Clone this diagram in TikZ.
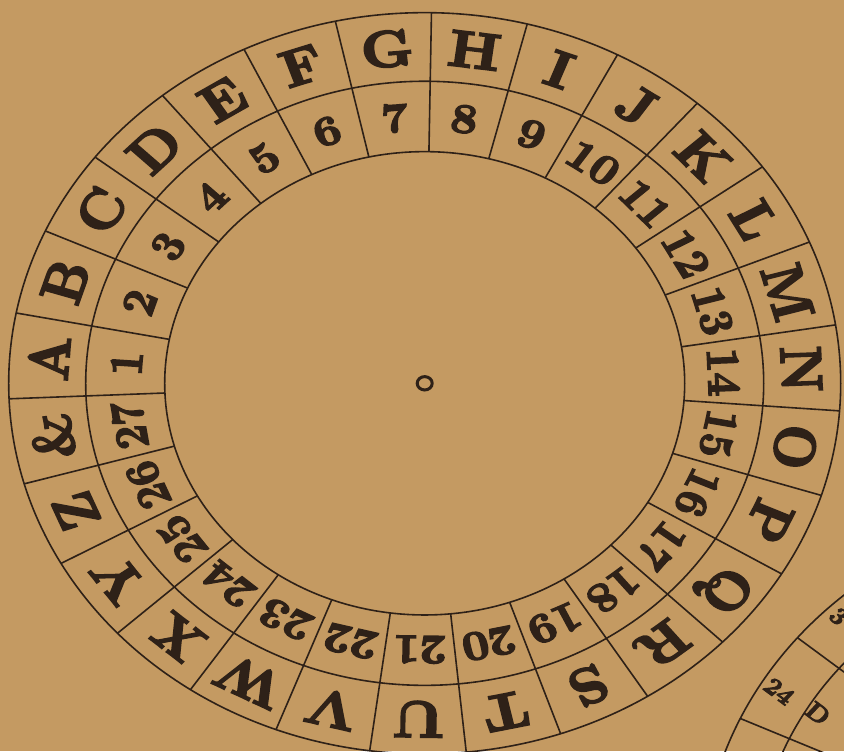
\documentclass[tikz,border=0pt]{standalone}
\usepackage{fontspec}
\usepackage{tikz}
\usetikzlibrary{positioning}
\newfontfamily\wheelfont{lmroman10-bold.otf}[FakeBold=3.5]
\definecolor{PaperTan}{HTML}{C49A62}
\definecolor{InkBrown}{HTML}{2E2118}

\tikzset{
  ring line/.style={draw=InkBrown, line width=1.6pt},
  wheel letter/.style={font=\fontsize{58}{58}\selectfont\wheelfont, text=InkBrown, inner sep=0pt},
  wheel number/.style={font=\fontsize{47}{47}\selectfont\wheelfont, text=InkBrown, inner sep=0pt},
  small number/.style={font=\fontsize{27}{27}\selectfont\wheelfont, text=InkBrown, inner sep=0pt},
}

\begin{document}
\begin{tikzpicture}[x=1pt, y=1pt, yscale=0.891, every node/.append style={transform shape}]
  % Paper
  \fill[PaperTan] (-424.7,430.2) rectangle (419.3,-412.7);
  \useasboundingbox (-424.7,430.2) rectangle (419.3,-412.7);
  \clip (-424.7,430.2) rectangle (419.3,-412.7);

  % Rings of the wheel
  \draw[ring line] (0,0) circle[radius=416];
  \draw[ring line] (0,0) circle[radius=339];
  \draw[ring line] (0,0) circle[radius=260];

  % Spokes
  \foreach \k in {0,...,26}
    \draw[ring line] ({182.4-13.3333*\k}:260) -- ({182.4-13.3333*\k}:416);

  % Letters
  \foreach \ch [count=\i from 0] in {A,B,C,D,E,F,G,H,I,J,K,L,M,N,O,P,Q,R,S,T,U,V,W,X,Y,Z,\&}
    \node[wheel letter, rotate={85.73-13.3333*\i}] (letter-\i) at ({175.73-13.3333*\i}:377) {\ch};

  % Numbers
  \foreach \n in {1,...,27}
    \node[wheel number, rotate={85.73-13.3333*(\n-1)}] (number-\n) at ({175.73-13.3333*(\n-1)}:299) {\n};

  % Pivot
  \draw[InkBrown, line width=3pt] (0,0) circle[radius=7.5];

  % Second wheel, cut by the page
  \begin{scope}[shift={(693.3,-550.7)}]
    \draw[ring line] (0,0) circle[radius=416];
    \draw[ring line] (0,0) circle[radius=362];
    \foreach \a in {140.4,155.2}
      \draw[ring line] (\a:300) -- (\a:416);
    \node[small number, rotate=-40] (second-24) at (148.8:396) {24};
    \node[small number, rotate=-40] (second-D) at (149:350) {D};
    \node[small number, rotate=-44] (second-3) at (134:402) {3};
  \end{scope}
\end{tikzpicture}
\end{document}
